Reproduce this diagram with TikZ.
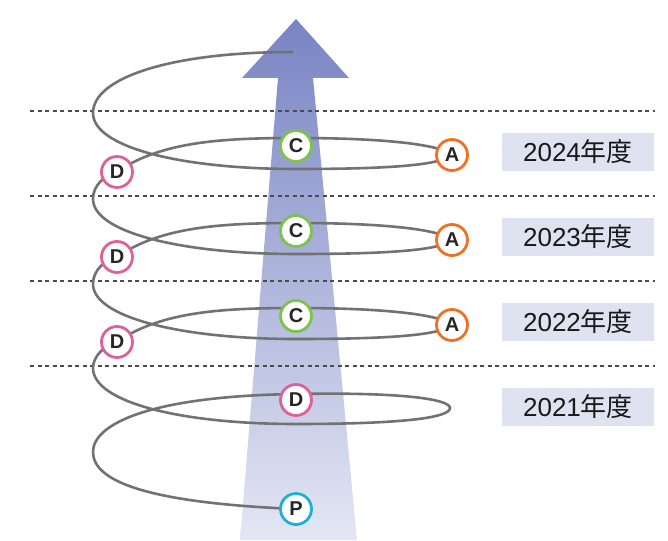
\documentclass[tikz,border=0pt]{standalone}
\usepackage{fontspec}
\newfontfamily\jpfont{Noto Sans CJK JP}
\newfontfamily\latinfont{Liberation Sans}
\usetikzlibrary{backgrounds}

\definecolor{arrowtop}{HTML}{7884C4}
\definecolor{arrowbot}{HTML}{E4E7F3}
\definecolor{boxfill}{HTML}{DFE2F0}
\definecolor{spiralgray}{HTML}{727272}
\definecolor{colD}{HTML}{E0609A}
\definecolor{colC}{HTML}{7CC24C}
\definecolor{colA}{HTML}{F07024}
\definecolor{colP}{HTML}{1FAFD2}

\newcommand{\fy}[1]{{\latinfont #1}年度}

\tikzset{
    ring/.style={circle, draw, line width=2.8pt, fill=white, minimum size=31pt,
        inner sep=0pt, font=\latinfont\bfseries\fontsize{20}{20}\selectfont, text=black!85},
    yearbox/.style={fill=boxfill, minimum width=152pt, minimum height=38pt,
        inner sep=0pt, font=\jpfont\fontsize{26}{26}\selectfont, text=black!90},
    spiral/.style={draw=spiralgray, line width=2.6pt},
    divider/.style={draw=black!70, line width=1.1pt, dash pattern=on 4pt off 3.5pt}
}

\begin{document}
\begin{tikzpicture}[x=1pt, y=-1pt]
    \useasboundingbox (0,0) rectangle (668,540);

    % three yearly cycles
    \foreach \yr/\yD in {2024/172, 2023/257, 2022/342} {
        \node [ring, draw=colD] (d\yr) at (117,\yD) {D};
        \node [ring, draw=colC] (c\yr) at (296,\yD-26) {C};
        \node [ring, draw=colA] (a\yr) at (452,\yD-17) {A};
        \node [yearbox] (y\yr) at (578,\yD-20) {\fy{\yr}};
    }
    \node [ring, draw=colD] (d2021) at (296,400) {D};
    \node [ring, draw=colP] (p) at (296,509) {P};
    \node [yearbox] (y2021) at (578,407) {\fy{2021}};
    \coordinate (top) at (293,52);

    \begin{pgfonlayer}{background}
        \shade [top color=arrowtop, bottom color=arrowbot]
            (240,540) -- (278,78) -- (242,78) -- (296,19) -- (349,78)
            -- (313,78) -- (357,540) -- cycle;
        \foreach \y in {111,196,281,366}
            \draw [divider] (30,\y) -- (655,\y);
        \draw [spiral] (p.center) .. controls (150,503) and (93,482) .. (93,452)
            .. controls (93,424) and (150,396) .. ([yshift=6pt]d2021.center)
            .. controls (400,392) and (450,399) .. (450,408)
            .. controls (450,418) and (400,424) .. (296,424)
            .. controls (180,424) and (93,402) .. (93,368)
            .. controls (93,356) and (105,345) .. (d2022.center)
            foreach \yr/\yD/\nx in {2022/342/2023, 2023/257/2024} {
                .. controls (160,\yD-30) and (220,\yD-34) .. ([yshift=8pt]c\yr.center)
                .. controls (380,\yD-34) and (440,\yD-28) .. (a\yr.center)
                .. controls (440,\yD-6) and (380,\yD-3) .. (296,\yD-3)
                .. controls (180,\yD-3) and (93,\yD-25) .. (93,\yD-58)
                .. controls (93,\yD-72) and (105,\yD-82) .. (d\nx.center)
            }
            .. controls (160,142) and (220,138) .. ([yshift=8pt]c2024.center)
            .. controls (380,138) and (440,144) .. (a2024.center)
            .. controls (440,166) and (380,169) .. (296,169)
            .. controls (180,169) and (93,147) .. (93,113)
            .. controls (93,78) and (170,52) .. (top);
    \end{pgfonlayer}
\end{tikzpicture}
\end{document}
